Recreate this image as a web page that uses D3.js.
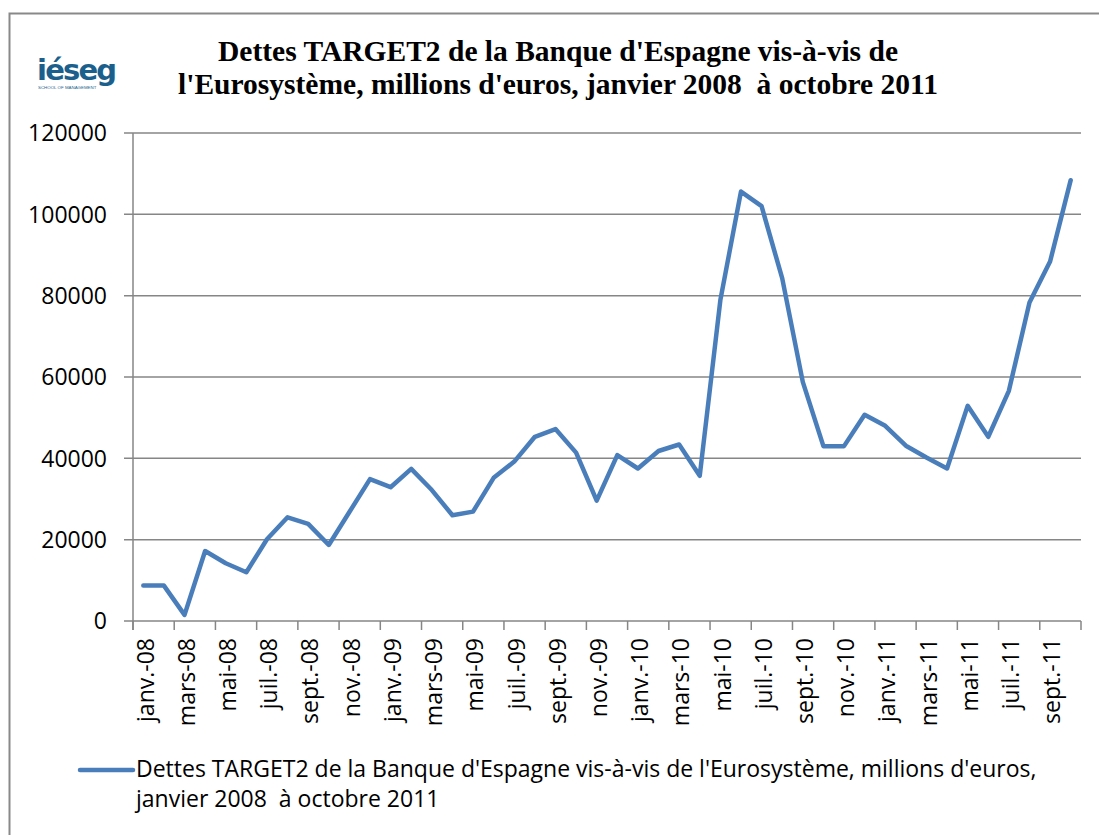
<!DOCTYPE html>
<html lang="fr">
<head>
<meta charset="UTF-8">
<title>Dettes TARGET2 Banque d'Espagne</title>
<script src="https://d3js.org/d3.v7.min.js"></script>
<style>
  body { margin: 0; background: #fff; }
  svg text { fill: #000; }
  .ax text { font-family: "Open Sans", sans-serif; font-size: 23px; }
  .lg text { font-family: "Open Sans", sans-serif; font-size: 23px; }
</style>
</head>
<body>
<div id="chart"></div>
<script>
// months janv.-08 .. oct.-11
const months = ["janv.-08","févr.-08","mars-08","avr.-08","mai-08","juin-08","juil.-08","août-08","sept.-08","oct.-08","nov.-08","déc.-08",
  "janv.-09","févr.-09","mars-09","avr.-09","mai-09","juin-09","juil.-09","août-09","sept.-09","oct.-09","nov.-09","déc.-09",
  "janv.-10","févr.-10","mars-10","avr.-10","mai-10","juin-10","juil.-10","août-10","sept.-10","oct.-10","nov.-10","déc.-10",
  "janv.-11","févr.-11","mars-11","avr.-11","mai-11","juin-11","juil.-11","août-11","sept.-11","oct.-11"];
const dettes = [8700, 8700, 1500, 17200, 14200, 12000, 20100, 25500, 23900, 18700, 26800, 34900,
  32900, 37400, 32200, 26000, 26900, 35200, 39200, 45300, 47200, 41400, 29600, 40800,
  37500, 41800, 43400, 35700, 78900, 105600, 102000, 84300, 58800, 43000, 43000, 50700,
  48000, 43100, 40200, 37500, 52900, 45300, 56600, 78300, 88400, 108400];
const yTicks = [0, 20000, 40000, 60000, 80000, 100000, 120000];
const titleLines = ["Dettes TARGET2 de la Banque d'Espagne vis-à-vis de",
  "l'Eurosystème, millions d'euros, janvier 2008  à octobre 2011"];
const legendLines = ["Dettes TARGET2 de la Banque d'Espagne vis-à-vis de l'Eurosystème, millions d'euros,",
  "janvier 2008  à octobre 2011"];

const W = 1099, H = 835;
const plot = {left: 133, right: 1081, top: 133, bottom: 621};
const blue = "#4a7ebb", grid = "#868686";

const svg = d3.select("#chart").append("svg")
  .attr("width", W).attr("height", H);

// outer frame
svg.append("rect").attr("x", 9.5).attr("y", 13.5)
  .attr("width", W + 10).attr("height", H + 10)
  .attr("fill", "none").attr("stroke", "#898989").attr("stroke-width", 2);

// logo
const logo = svg.append("g").attr("transform", "translate(37,80)");
logo.append("text").text("iéseg")
  .attr("font-family", "DejaVu Sans").attr("font-weight", "bold")
  .attr("font-size", 29).attr("letter-spacing", -1.8)
  .style("fill", "#1b5f8c");
logo.append("text").text("SCHOOL OF MANAGEMENT")
  .attr("x", 1).attr("y", 9).attr("font-family", "Liberation Sans")
  .attr("font-size", 4.4).style("fill", "#1b5f8c");

// title
svg.append("g").selectAll("text").data(titleLines).join("text")
  .attr("x", 558).attr("y", (d, i) => 61 + i * 33)
  .attr("text-anchor", "middle")
  .attr("font-family", "'Times New Roman', 'Liberation Serif', serif")
  .attr("font-weight", "bold").attr("font-size", 29.5)
  .style("white-space", "pre")
  .text(d => d);

const x = d3.scaleBand().domain(months).range([plot.left, plot.right]);
const y = d3.scaleLinear().domain([0, 120000]).range([plot.bottom, plot.top]);

// gridlines
svg.append("g").selectAll("line").data(yTicks).join("line")
  .attr("x1", plot.left - 9).attr("x2", plot.right)
  .attr("y1", d => y(d)).attr("y2", d => y(d))
  .attr("stroke", grid).attr("stroke-width", 1.5);

// y axis labels
const yAx = svg.append("g").attr("class", "ax");
yAx.append("line").attr("x1", plot.left).attr("x2", plot.left)
  .attr("y1", plot.top).attr("y2", plot.bottom + 9)
  .attr("stroke", grid).attr("stroke-width", 1.5);
yAx.selectAll("text").data(yTicks).join("text")
  .attr("x", 107).attr("y", d => y(d)).attr("dy", "0.36em")
  .attr("text-anchor", "end").text(d => d);

// x axis ticks (every second month, on category boundaries) and labels
const xAx = svg.append("g").attr("class", "ax");
const tickCats = months.filter((m, i) => i % 2 === 0);
xAx.selectAll("line").data(tickCats.concat([null])).join("line")
  .attr("x1", d => d ? x(d) : plot.right).attr("x2", d => d ? x(d) : plot.right)
  .attr("y1", plot.bottom).attr("y2", plot.bottom + 9)
  .attr("stroke", grid).attr("stroke-width", 1.5);
xAx.selectAll("text").data(tickCats).join("text")
  .attr("transform", d => `translate(${x(d) + x.bandwidth() / 2 + 2},${plot.bottom + 17}) rotate(-90)`)
  .attr("text-anchor", "end").attr("dy", "0.36em")
  .text(d => d);

// series line
const line = d3.line()
  .x((d, i) => x(months[i]) + x.bandwidth() / 2)
  .y(d => y(d));
svg.append("path").datum(dettes)
  .attr("d", line).attr("fill", "none")
  .attr("stroke", blue).attr("stroke-width", 4.5)
  .attr("stroke-linejoin", "round").attr("stroke-linecap", "round");

// legend
const lg = svg.append("g").attr("class", "lg");
lg.append("line").attr("x1", 80).attr("x2", 133).attr("y1", 770).attr("y2", 770)
  .attr("stroke", blue).attr("stroke-width", 4.5).attr("stroke-linecap", "round");
lg.selectAll("text").data(legendLines).join("text")
  .attr("x", 136).attr("y", (d, i) => 777 + i * 30)
  .style("white-space", "pre")
  .text(d => d);
</script>
</body>
</html>
